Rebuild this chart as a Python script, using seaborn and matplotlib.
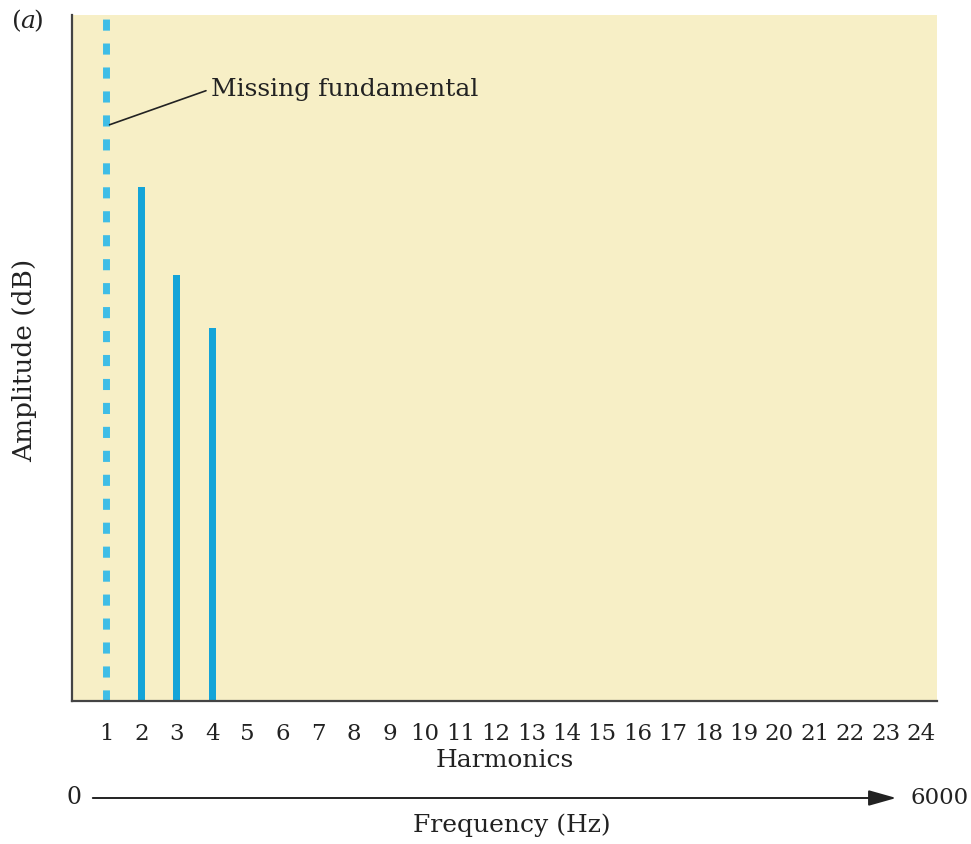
import matplotlib
matplotlib.use("Agg")
import matplotlib.pyplot as plt
import seaborn as sns
import pandas as pd

# data
harmonics = [2, 3, 4]
amplitudes = [75.0, 62.1, 54.4]
missing_harmonic = 1
missing_top = 100
tick_labels = [str(i) for i in range(1, 25)]
freq_range = ["0", "6000"]

sns.set_theme(style="white")
plt.rcParams['font.family'] = ['DejaVu Serif']
FS = 16.5
FL = 18
TC = "#222222"

fig = plt.figure(figsize=(9.71, 8.44), dpi=100)
ax = fig.add_axes([72/971, (844-701)/844, (937-72)/971, (701-15)/844])
ax.set_facecolor("#f7efc6")

df = pd.DataFrame({"h": harmonics, "a": amplitudes})
sns.barplot(data=df, x="h", y="a", native_scale=True, width=0.2,
            color="#14a4d8", saturation=1, ax=ax, linewidth=0)

ax.vlines([missing_harmonic], 0, missing_top, colors="#3fbde6",
          linewidth=5.0, linestyles=(0, (1.6, 1.85)), capstyle="butt")

ax.set_xlim(0.04, 24.45)
ax.set_ylim(0, 100)
ax.set_xticks(range(1, 25))
ax.set_xticklabels(tick_labels, fontsize=FS, color=TC)
ax.set_yticks([])
ax.tick_params(axis="x", length=0, pad=16)
ax.set_xlabel("Harmonics", fontsize=FL, color=TC, labelpad=3)
ax.set_ylabel("")
for s in ["top", "right"]:
    ax.spines[s].set_visible(False)
for s in ["left", "bottom"]:
    ax.spines[s].set_color("#444444")
    ax.spines[s].set_linewidth(1.6)

ax.annotate("Missing fundamental", xy=(1.1, 84.0), xytext=(3.95, 89.2),
            textcoords="data", fontsize=FL, color=TC, va="center", ha="left",
            arrowprops=dict(arrowstyle="-", color=TC, lw=1.2, relpos=(0, 0.5),
                            shrinkA=1, shrinkB=0))

fig.text(25/971, 1 - 360/844, "Amplitude (dB)", rotation=90, fontsize=FL + 1,
         color=TC, ha="center", va="center")
fig.text(12/971, 1 - 22/844, "(", fontsize=FL, color=TC, ha="left", va="center")
fig.text(20/971, 1 - 22/844, "a", fontsize=FL, style="italic", color=TC, ha="left", va="center")
fig.text(33/971, 1 - 22/844, ")", fontsize=FL, color=TC, ha="left", va="center")

# frequency arrow
y_arr = 1 - 798/844
fig.add_artist(matplotlib.patches.FancyArrowPatch(
    (90/971, y_arr), (899/971, y_arr), transform=fig.transFigure,
    arrowstyle="-|>,head_length=17,head_width=4.8", color=TC, lw=1.4,
    mutation_scale=1))
fig.text(66/971, y_arr, freq_range[0], fontsize=FS + 0.5, color=TC, ha="left", va="center")
fig.text(910/971, y_arr, freq_range[1], fontsize=FS, color=TC, ha="left", va="center")
fig.text(512/971, 1 - 825/844, "Frequency (Hz)", fontsize=FL, color=TC,
         ha="center", va="center")

fig.savefig("out.png", dpi=100, facecolor="white")
